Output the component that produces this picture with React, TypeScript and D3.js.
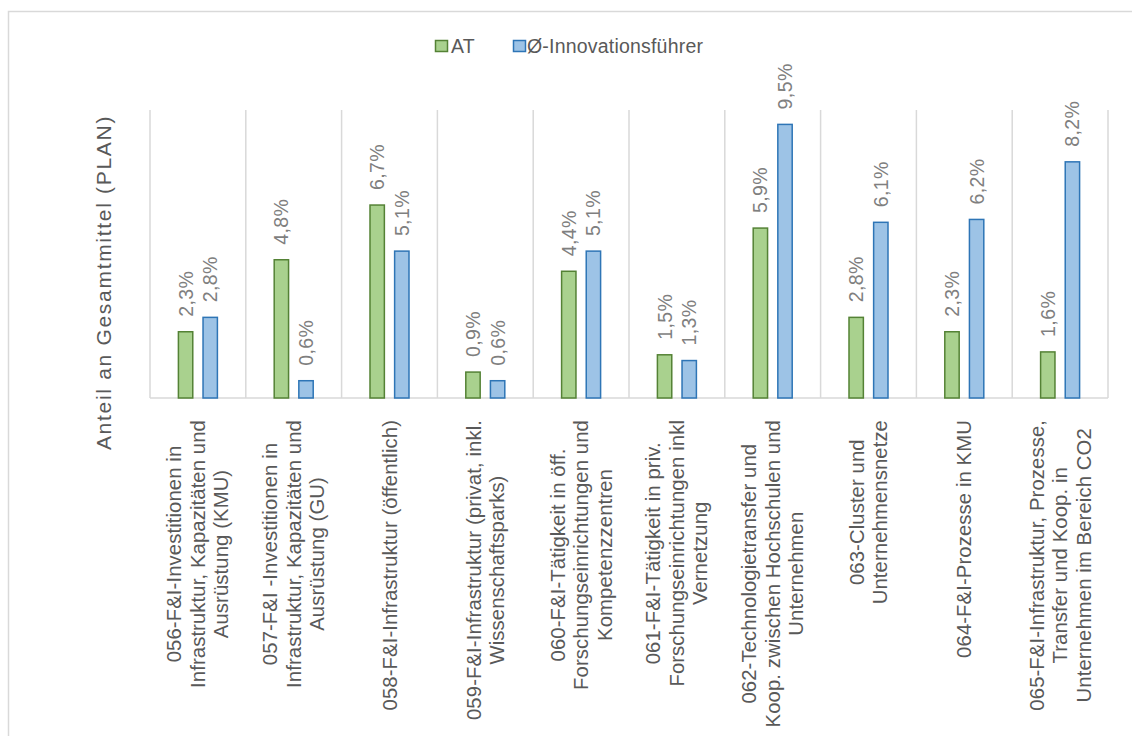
import React, { useEffect, useRef } from "react";
import * as d3 from "d3";

const categories: string[][] = [
  ["056-F&I-Investitionen in", "Infrastruktur, Kapazitäten und", "Ausrüstung (KMU)"],
  ["057-F&I -Investitionen in", "Infrastruktur, Kapazitäten und", "Ausrüstung (GU)"],
  ["058-F&I-Infrastruktur (öffentlich)"],
  ["059-F&I-Infrastruktur (privat, inkl.", "Wissenschaftsparks)"],
  ["060-F&I-Tätigkeit in öff.", "Forschungseinrichtungen und", "Kompetenzzentren"],
  ["061-F&I-Tätigkeit in priv.", "Forschungseinrichtungen inkl", "Vernetzung"],
  ["062-Technologietransfer und", "Koop. zwischen Hochschulen und", "Unternehmen"],
  ["063-Cluster und", "Unternehmensnetze"],
  ["064-F&I-Prozesse in KMU"],
  ["065-F&I-Infrastruktur, Prozesse,", "Transfer und Koop. in", "Unternehmen im Bereich CO2"],
];
const seriesNames = ["AT", "Ø-Innovationsführer"];
const valuesAT = [2.3, 4.8, 6.7, 0.9, 4.4, 1.5, 5.9, 2.8, 2.3, 1.6];
const valuesInno = [2.8, 0.6, 5.1, 0.6, 5.1, 1.3, 9.5, 6.1, 6.2, 8.2];
const yDomain = [0, 10];
const yTitle = "Anteil an Gesamtmittel (PLAN)";

const W = 1132;
const H = 736;
const FONT = "'Liberation Sans', Arial, sans-serif";
const fills = ["#a9d18e", "#9dc3e6"];
const strokes = ["#548235", "#2e75b6"];

export default function App() {
  const ref = useRef<SVGSVGElement | null>(null);

  useEffect(() => {
    const svg = d3.select(ref.current!);
    svg.selectAll("*").remove();

    const left = 150, right = 1108, top = 110, bottom = 398;
    const keys = categories.map((_, i) => String(i));
    const x = d3.scaleBand<string>().domain(keys).range([left, right]).padding(0);
    const xs = d3.scaleBand<number>().domain([0, 1]).range([-19.5, 19.5]).paddingInner(10 / 24);
    const y = d3.scaleLinear().domain(yDomain).range([bottom, top]);

    // outer border
    svg.append("rect").attr("x", 8.5).attr("y", 11.5).attr("width", W + 20).attr("height", H + 20)
      .attr("fill", "#fff").attr("stroke", "#d9d9d9").attr("stroke-width", 1.5);

    // gridlines (category separators)
    const bounds = keys.map((k) => x(k)!).concat([right]);
    svg.append("g").selectAll("line").data(bounds).join("line")
      .attr("x1", (d) => d).attr("x2", (d) => d).attr("y1", top).attr("y2", bottom)
      .attr("stroke", "#d9d9d9").attr("stroke-width", 1.5);
    svg.append("line").attr("x1", left).attr("x2", right).attr("y1", bottom).attr("y2", bottom)
      .attr("stroke", "#d9d9d9").attr("stroke-width", 1.5);

    const series = [valuesAT, valuesInno];
    series.forEach((vals, si) => {
      const g = svg.append("g");
      g.selectAll("rect").data(vals).join("rect")
        .attr("x", (_, i) => x(keys[i])! + x.bandwidth() / 2 + xs(si)!)
        .attr("y", (d) => y(d))
        .attr("width", xs.bandwidth())
        .attr("height", (d) => bottom - y(d))
        .attr("fill", fills[si]).attr("stroke", strokes[si]).attr("stroke-width", 1.5);
      g.selectAll("text").data(vals).join("text")
        .attr("transform", (d, i) => {
          const cx = x(keys[i])! + x.bandwidth() / 2 + xs(si)! + xs.bandwidth() / 2;
          return `translate(${cx},${y(d) - 15}) rotate(-90)`;
        })
        .attr("dominant-baseline", "central")
        .attr("text-anchor", "start")
        .attr("font-family", FONT).attr("font-size", 19.5).attr("letter-spacing", 0.4)
        .attr("fill", "#7f7f7f")
        .text((d) => d.toFixed(1).replace(".", ",") + "%");
    });

    // category labels
    const lineH = 23.5;
    categories.forEach((lines, i) => {
      const cx = x(keys[i])! + x.bandwidth() / 2;
      const g = svg.append("g");
      const texts = g.selectAll("text").data(lines).join("text")
        .attr("text-anchor", "middle").attr("dominant-baseline", "central")
        .attr("font-family", FONT).attr("font-size", 20.3).attr("letter-spacing", 0.1)
        .attr("fill", "#595959").text((d) => d);
      let maxLen = 0;
      texts.each(function () {
        maxLen = Math.max(maxLen, (this as SVGTextElement).getComputedTextLength());
      });
      const cy = 420 + maxLen / 2;
      texts.attr("transform", (_, j) => {
        const lx = cx + (j - (lines.length - 1) / 2) * lineH;
        return `translate(${lx},${cy}) rotate(-90)`;
      });
    });

    // y title
    svg.append("text")
      .attr("transform", `translate(103,${(113 + 452) / 2}) rotate(-90)`)
      .attr("text-anchor", "middle").attr("dominant-baseline", "central")
      .attr("font-family", FONT).attr("font-size", 21).attr("letter-spacing", 1.7)
      .attr("fill", "#595959").text(yTitle);

    // legend
    const lg = svg.append("g");
    const items = [
      { x: 435.5, tx: 451, i: 0 },
      { x: 513.5, tx: 527, i: 1 },
    ];
    items.forEach((it) => {
      lg.append("rect").attr("x", it.x).attr("y", 40.5).attr("width", 12).attr("height", 11)
        .attr("fill", fills[it.i]).attr("stroke", strokes[it.i]).attr("stroke-width", 1.5);
      lg.append("text").attr("x", it.tx).attr("y", 53.3)
        .attr("font-family", FONT).attr("font-size", 19.5).attr("letter-spacing", 0.2)
        .attr("fill", "#595959").text(seriesNames[it.i]);
    });
  }, []);

  return (
    <svg ref={ref} width={W} height={H} style={{ position: "absolute", left: 0, top: 0 }} />
  );
}
